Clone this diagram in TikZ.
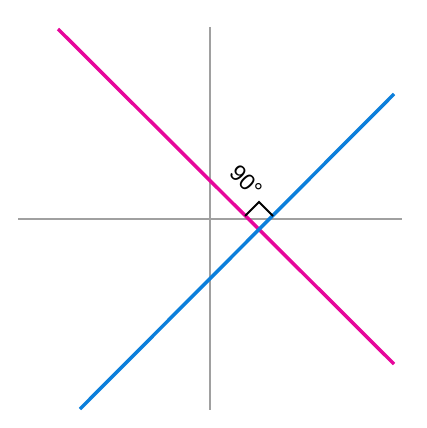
\documentclass[tikz,border=0pt]{standalone}
\usepackage{fontspec}
\setmainfont{Liberation Sans}
\definecolor{lnmagenta}{HTML}{E6079B}
\definecolor{lnblue}{HTML}{0C7FDB}
\definecolor{axgray}{HTML}{A0A0A0}
\usetikzlibrary{calc}

\begin{document}
\begin{tikzpicture}[x=1pt, y=-1pt,
  axis/.style={axgray, line width=2pt},
  ln/.style={line width=3.5pt},
  rmark/.style={black, line width=2pt},
  lbl/.style={font=\fontsize{23}{23}\selectfont, rotate=-45, inner sep=0pt},
]
  \useasboundingbox (0,0) rectangle (426,428);
  % axes
  \coordinate (xl) at (18,219);
  \coordinate (xr) at (402,219);
  \coordinate (yt) at (210,27);
  \coordinate (yb) at (210,410);
  \draw[axis] (xl) -- (xr);
  \draw[axis] (yt) -- (yb);
  % the two lines
  \coordinate (m1) at (58,29);
  \coordinate (m2) at (394,364);
  \coordinate (b1) at (80,409);
  \coordinate (b2) at (394,94);
  \draw[ln, lnmagenta] (m1) -- (m2);
  \draw[ln, lnblue] (b1) -- (b2);
  % right angle
  \coordinate (o) at (259,230);
  \coordinate (ra) at (245,216);
  \coordinate (rc) at (259,202);
  \coordinate (rb) at (273,216);
  \draw[rmark] (ra) -- (rc) -- (rb);
  \node[lbl] (ang) at (246,181) {90°};
\end{tikzpicture}
\end{document}
